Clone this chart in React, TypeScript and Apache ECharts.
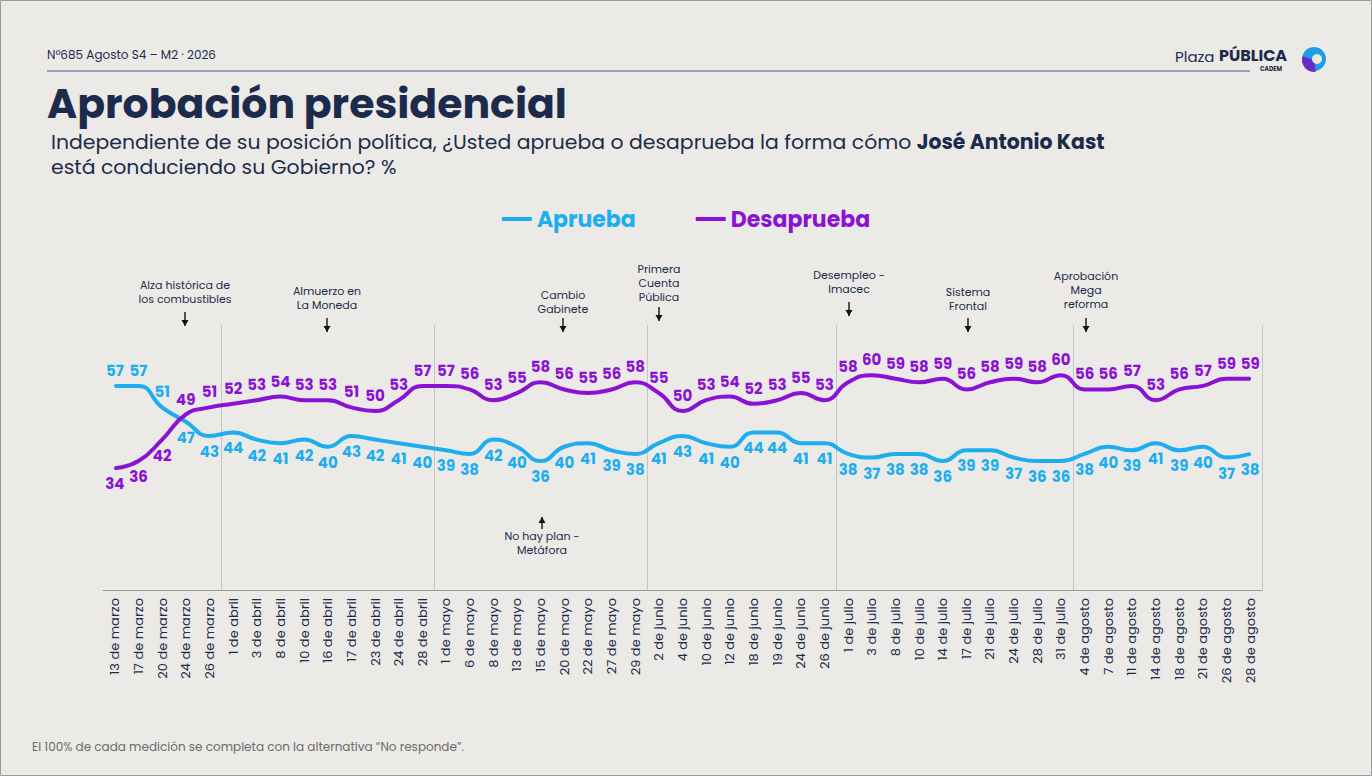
import { useRef, useEffect } from 'react';
import * as echarts from 'echarts';

const categories = [
  '13 de marzo', '17 de marzo', '20 de marzo', '24 de marzo', '26 de marzo',
  '1 de abril', '3 de abril', '8 de abril', '10 de abril', '16 de abril', '17 de abril', '23 de abril', '24 de abril', '28 de abril',
  '1 de mayo', '6 de mayo', '8 de mayo', '13 de mayo', '15 de mayo', '20 de mayo', '22 de mayo', '27 de mayo', '29 de mayo',
  '2 de junio', '4 de junio', '10 de junio', '12 de junio', '18 de junio', '19 de junio', '24 de junio', '26 de junio',
  '1 de julio', '3 de julio', '8 de julio', '10 de julio', '14 de julio', '17 de julio', '21 de julio', '24 de julio', '28 de julio', '31 de julio',
  '4 de agosto', '7 de agosto', '11 de agosto', '14 de agosto', '18 de agosto', '21 de agosto', '26 de agosto', '28 de agosto',
];

const aprueba = [
  57, 57, 51, 47, 43, 44, 42, 41, 42, 40, 43, 42, 41, 40, 39, 38, 42, 40, 36, 40, 41, 39, 38, 41, 43,
  41, 40, 44, 44, 41, 41, 38, 37, 38, 38, 36, 39, 39, 37, 36, 36, 38, 40, 39, 41, 39, 40, 37, 38,
];

const desaprueba = [
  34, 36, 42, 49, 51, 52, 53, 54, 53, 53, 51, 50, 53, 57, 57, 56, 53, 55, 58, 56, 55, 56, 58, 55, 50,
  53, 54, 52, 53, 55, 53, 58, 60, 59, 58, 59, 56, 58, 59, 58, 60, 56, 56, 57, 53, 56, 57, 59, 59,
];

// first index of each new month
const monthStarts = [5, 14, 23, 31, 41];

const events = [
  { x: 185, y: 278, text: 'Alza histórica de\nlos combustibles', a1: 312, a2: 326 },
  { x: 327, y: 284, text: 'Almuerzo en\nLa Moneda', a1: 318, a2: 332 },
  { x: 563, y: 288, text: 'Cambio\nGabinete', a1: 318, a2: 332 },
  { x: 659, y: 262, text: 'Primera\nCuenta\nPública', a1: 307, a2: 321 },
  { x: 849, y: 268, text: 'Desempleo -\nImacec', a1: 302, a2: 316 },
  { x: 968, y: 285, text: 'Sistema\nFrontal', a1: 318, a2: 332 },
  { x: 1086, y: 269, text: 'Aprobación\nMega\nreforma', a1: 318, a2: 332 },
];

const NAVY = '#1c2b4b';
const BLUE = '#1eaef0';
const PURPLE = '#8a12d4';

function arrow(x: number, y1: number, y2: number, up = false) {
  const tip = up ? y1 : y2;
  const d = up ? 1 : -1;
  return [
    { type: 'line', shape: { x1: x, y1, x2: x, y2 }, style: { stroke: '#111', lineWidth: 1.4 } },
    {
      type: 'polygon',
      shape: { points: [[x, tip], [x - 3.5, tip + d * 6], [x + 3.5, tip + d * 6]] },
      style: { fill: '#111' },
    },
  ];
}

export default function App() {
  const chartRef = useRef<HTMLDivElement>(null);

  useEffect(() => {
    if (!chartRef.current) return;
    const chart = echarts.init(chartRef.current, undefined, { renderer: 'svg' });
    const font = 'Poppins, "Open Sans", sans-serif';

    const graphics: any[] = [
      { type: 'rect', shape: { x: 0.5, y: 0.5, width: 1371, height: 775 }, style: { fill: 'none', stroke: '#9a9a9a', lineWidth: 1 } },
      { type: 'text', x: 47, y: 48, style: { text: 'N°685 Agosto S4 – M2 · 2026', fill: NAVY, font: `12px ${font}` } },
      { type: 'line', shape: { x1: 47, y1: 71, x2: 1250, y2: 71 }, style: { stroke: '#4a5a8a', lineWidth: 1 } },
      { type: 'text', x: 1175, y: 49, style: { text: 'Plaza', fill: NAVY, font: `15px ${font}` } },
      { type: 'text', x: 1219, y: 47, style: { text: 'PÚBLICA', fill: NAVY, font: `bold 16px ${font}` } },
      { type: 'text', x: 1260, y: 66, style: { text: 'CADEM', fill: NAVY, font: `bold 6px ${font}` } },
      { type: 'circle', shape: { cx: 1314, cy: 59, r: 12 }, style: { fill: '#1e9ce8' } },
      { type: 'sector', shape: { cx: 1314, cy: 60, r: 12, r0: 0, startAngle: Math.PI * 0.45, endAngle: Math.PI * 1.1 }, style: { fill: '#6a2bc4' } },
      { type: 'circle', shape: { cx: 1317, cy: 59, r: 5 }, style: { fill: '#ebeae7' } },
      { type: 'text', x: 47, y: 84, style: { text: 'Aprobación presidencial', fill: NAVY, font: `bold 41px ${font}`, lineHeight: 38 } },
      {
        type: 'text', x: 51, y: 129,
        style: {
          text: '{n|Independiente de su posición política, ¿Usted aprueba o desaprueba la forma cómo }{b|José Antonio Kast}\n{n|está conduciendo su Gobierno? %}',
          rich: {
            n: { fill: NAVY, font: `20.4px ${font}`, lineHeight: 25 },
            b: { fill: NAVY, font: `bold 20.4px ${font}`, lineHeight: 25 },
          },
        },
      },
      { type: 'text', x: 32, y: 740, style: { text: 'El 100% de cada medición se completa con la alternativa “No responde”.', fill: '#6b6b6b', font: `12px ${font}` } },
      { type: 'text', x: 542, y: 529, style: { text: 'No hay plan -\nMetáfora', fill: NAVY, font: `11px ${font}`, align: 'center', lineHeight: 14 } },
      ...arrow(542, 517, 529, true),
    ];
    events.forEach((e) => {
      graphics.push({ type: 'text', x: e.x, y: e.y, style: { text: e.text, fill: NAVY, font: `11px ${font}`, align: 'center', lineHeight: 14 } });
      graphics.push(...arrow(e.x, e.a1, e.a2));
    });

    const labelFor = (vals: number[], color: string, posFn: (i: number) => 'top' | 'bottom') =>
      vals.map((v, i) => ({
        value: v,
        label: { show: true, position: posFn(i), distance: 7, color, fontSize: 15, fontWeight: 'bold', fontFamily: font },
      }));

    chart.setOption({
      animation: false,
      backgroundColor: '#ebeae7',
      textStyle: { fontFamily: font },
      legend: {
        top: 203,
        left: 'center',
        itemGap: 60,
        itemWidth: 30,
        itemHeight: 4,
        icon: 'rect',
        textStyle: { fontSize: 22, fontWeight: 'bold', fontFamily: font },
        data: [
          { name: 'Aprueba', itemStyle: { color: BLUE, opacity: 1 }, textStyle: { color: BLUE } },
          { name: 'Desaprueba', itemStyle: { color: PURPLE, opacity: 1 }, textStyle: { color: PURPLE } },
        ],
      },
      grid: { left: 103, right: 110, top: 325, bottom: 186 },
      xAxis: {
        type: 'category',
        data: categories,
        boundaryGap: true,
        axisLine: { lineStyle: { color: '#9a9a9a' } },
        axisTick: { show: false },
        axisLabel: { rotate: 90, interval: 0, color: NAVY, fontSize: 13, fontFamily: font, margin: 8 },
        splitLine: {
          show: true,
          interval: (index: number) => monthStarts.includes(index),
          lineStyle: { color: '#c4c4c4', type: 'solid', width: 1 },
        },
      },
      yAxis: { type: 'value', min: 0, max: 74, show: false, splitLine: { show: false } },
      series: [
        {
          name: 'Aprueba',
          type: 'line',
          smooth: 0.5,
          symbol: 'circle',
          symbolSize: 2,
          showSymbol: true,
          itemStyle: { color: BLUE },
          lineStyle: { width: 4, color: BLUE },
          data: labelFor(aprueba, BLUE, (i) => (i < 3 ? 'top' : 'bottom')),
        },
        {
          name: 'Desaprueba',
          type: 'line',
          smooth: 0.5,
          symbol: 'circle',
          symbolSize: 2,
          showSymbol: true,
          itemStyle: { color: PURPLE },
          lineStyle: { width: 4, color: PURPLE },
          data: labelFor(desaprueba, PURPLE, (i) => (i < 3 ? 'bottom' : 'top')),
        },
      ],
      graphic: graphics,
    });

    return () => chart.dispose();
  }, []);

  return <div ref={chartRef} style={{ position: 'fixed', left: 0, top: 0, width: 1372, height: 776 }} />;
}
